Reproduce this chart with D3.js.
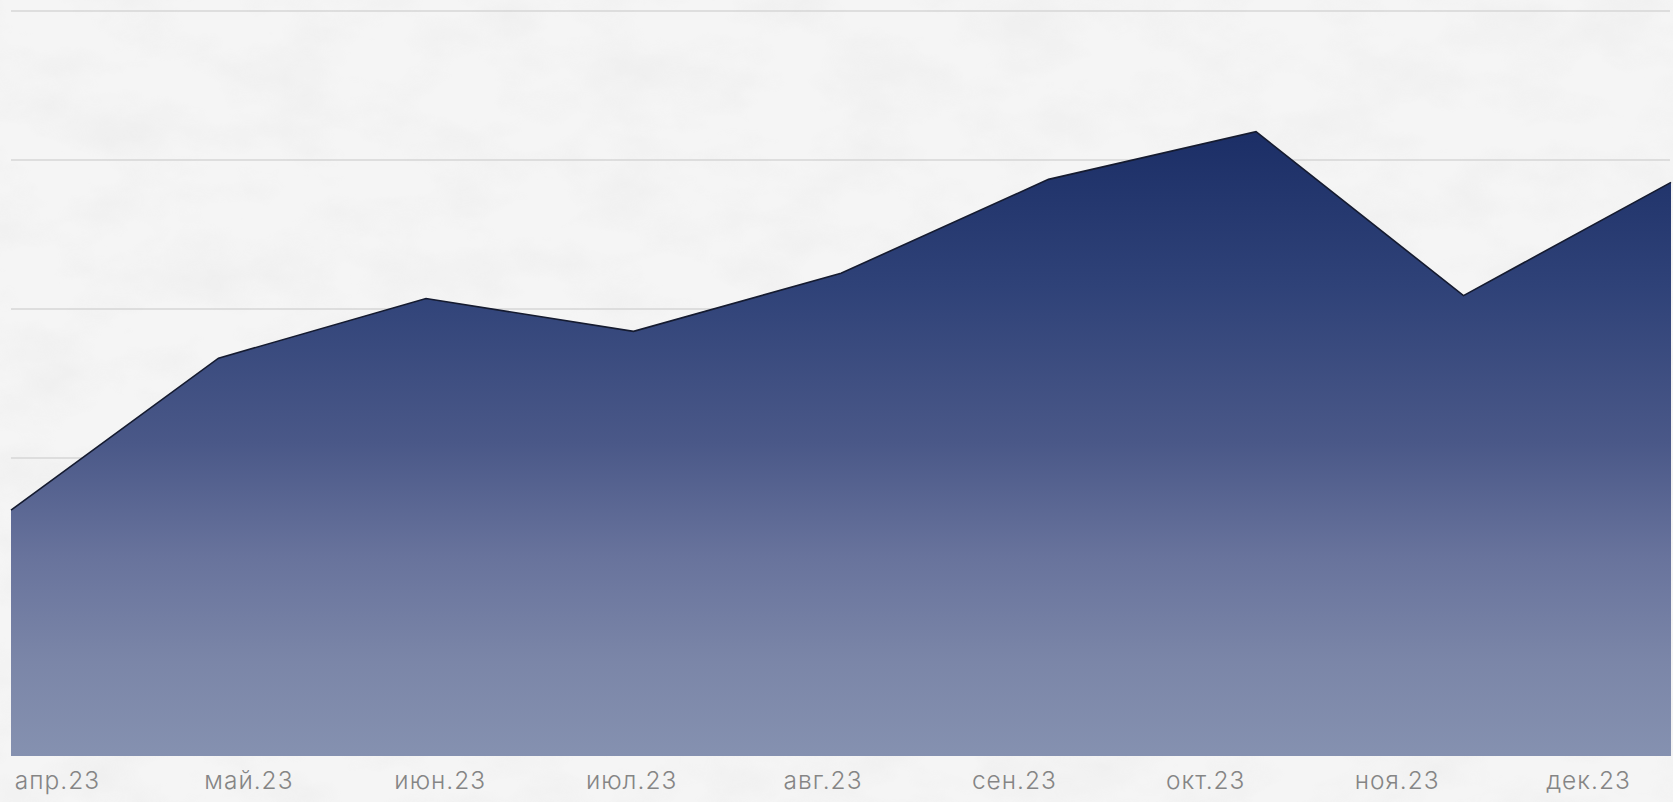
<!DOCTYPE html>
<html>
<head>
<meta charset="utf-8">
<script src="https://cdn.jsdelivr.net/npm/d3@7"></script>
<style>
html,body{margin:0;padding:0;background:#f4f4f4;}
svg{display:block;}
</style>
</head>
<body>
<svg id="chart" width="1673" height="802"></svg>
<script>
const months = ["апр.23","май.23","июн.23","июл.23","авг.23","сен.23","окт.23","ноя.23","дек.23"];
const values = [1.65, 2.67, 3.07, 2.85, 3.24, 3.87, 4.19, 3.09, 3.85];
const gridTicks = [0, 1, 2, 3, 4, 5];

const W = 1673, H = 802;
const plot = {left: 11, right: 1671, top: 11, bottom: 756};

const svg = d3.select("#chart");
const defs = svg.append("defs");

// background texture
const f = defs.append("filter").attr("id","paper").attr("x",0).attr("y",0).attr("width","100%").attr("height","100%");
f.append("feTurbulence").attr("type","fractalNoise").attr("baseFrequency","0.012 0.02").attr("numOctaves",4).attr("seed",7).attr("result","n");
f.append("feColorMatrix").attr("in","n").attr("type","matrix")
  .attr("values","0 0 0 0 0.55  0 0 0 0 0.55  0 0 0 0 0.55  0 0 -0.9 0 0.55").attr("result","c");
f.append("feComposite").attr("in","c").attr("in2","SourceGraphic").attr("operator","in");

svg.append("rect").attr("width",W).attr("height",H).attr("fill","#f5f5f5");
svg.append("rect").attr("width",W).attr("height",H).attr("fill","#fff").attr("filter","url(#paper)").attr("opacity",0.24);

const x = d3.scalePoint().domain(months).range([plot.left, plot.right]);
const y = d3.scaleLinear().domain([0, 5]).range([plot.bottom, plot.top]);

// gridlines
svg.append("g").selectAll("line").data(gridTicks.filter(d => d > 0)).join("line")
  .attr("x1", plot.left).attr("x2", plot.right - 1)
  .attr("y1", d => y(d)).attr("y2", d => y(d))
  .attr("stroke", "#d6d6d6").attr("stroke-width", 1.5);

// gradient
const g = defs.append("linearGradient").attr("id","fillGrad")
  .attr("gradientUnits","userSpaceOnUse").attr("x1",0).attr("x2",0)
  .attr("y1", y(4.2)).attr("y2", plot.bottom);
[[0,"#1b2e66"],[0.25,"#2f4278"],[0.5,"#4a5888"],[0.68,"#68739c"],[0.85,"#7b86a8"],[1,"#8591b0"]]
  .forEach(([o,c]) => g.append("stop").attr("offset", o).attr("stop-color", c));

const data = months.map((m,i) => ({m, v: values[i]}));

const area = d3.area().x(d => x(d.m)).y0(y(0)).y1(d => y(d.v));
const line = d3.line().x(d => x(d.m)).y(d => y(d.v));

svg.append("path").datum(data).attr("d", area).attr("fill", "url(#fillGrad)");
svg.append("path").datum(data).attr("d", line).attr("fill","none")
  .attr("stroke","#151b30").attr("stroke-width",1.6).attr("stroke-linejoin","miter");

// x labels
const xl = d3.scalePoint().domain(months).range([57, 1588]);
const axis = d3.axisBottom(xl).tickSize(0).tickPadding(0);
const ax = svg.append("g").attr("transform", `translate(0, ${plot.bottom + 15})`).call(axis);
ax.select(".domain").remove();
ax.selectAll("text")
  .attr("font-family", "Inter, Roboto, sans-serif")
  .attr("font-size", 24.5)
  .attr("font-weight", 300)
  .attr("letter-spacing", 1)
  .attr("fill", "#858585")
  .attr("dy", "0.72em");
</script>
</body>
</html>
